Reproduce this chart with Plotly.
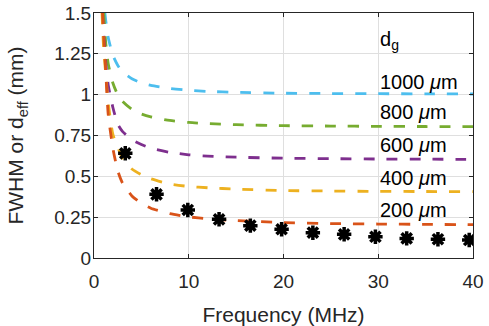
import plotly.graph_objects as go

# Curves d_eff vs frequency for gap sizes d_g
f_1000 = [1.15, 1.25, 1.5, 2, 2.5, 3, 4, 5, 6, 8, 10, 12, 15, 20, 25, 30, 35, 40]
v_1000 = [1.50, 1.45, 1.35, 1.24, 1.18, 1.14, 1.097, 1.072, 1.057, 1.038, 1.027, 1.020, 1.014, 1.009, 1.007, 1.006, 1.005, 1.004]

f_800 = [1.03, 1.25, 1.5, 2, 2.5, 3, 4, 5, 6, 8, 10, 12, 15, 20, 25, 30, 35, 40]
v_800 = [1.50, 1.31, 1.19, 1.07, 1.00, 0.96, 0.91, 0.882, 0.864, 0.842, 0.830, 0.823, 0.816, 0.810, 0.808, 0.806, 0.805, 0.804]

f_600 = [0.9, 1, 1.25, 1.5, 2, 2.5, 3, 4, 5, 6, 8, 10, 12, 15, 20, 25, 30, 35, 40]
v_600 = [1.50, 1.39, 1.19, 1.06, 0.92, 0.82, 0.775, 0.725, 0.695, 0.672, 0.647, 0.632, 0.624, 0.617, 0.611, 0.608, 0.606, 0.605, 0.604]

f_400 = [0.85, 1, 1.25, 1.5, 2, 2.5, 3, 4, 5, 6, 8, 10, 12, 15, 20, 25, 30, 35, 40]
v_400 = [1.50, 1.30, 1.12, 0.95, 0.755, 0.68, 0.61, 0.545, 0.51, 0.485, 0.453, 0.438, 0.430, 0.422, 0.413, 0.410, 0.408, 0.407, 0.406]

f_200 = [0.9, 1, 1.25, 1.5, 2, 2.5, 3, 4, 5, 6, 8, 10, 12, 15, 20, 25, 30, 35, 40]
v_200 = [1.50, 1.38, 1.13, 0.88, 0.67, 0.535, 0.46, 0.38, 0.335, 0.305, 0.272, 0.252, 0.240, 0.229, 0.217, 0.211, 0.208, 0.206, 0.204]

# Measured FWHM points
f_meas = [3.3, 6.6, 9.9, 13.2, 16.5, 19.8, 23.1, 26.4, 29.7, 33.0, 36.3, 39.6]
v_meas = [0.641, 0.390, 0.294, 0.237, 0.198, 0.176, 0.155, 0.145, 0.130, 0.120, 0.115, 0.110]

labels = ["1000", "800", "600", "400", "200"]
label_y = [1.079, 0.896, 0.692, 0.488, 0.294]

series = [
    (f_1000, v_1000, "#4DBEEE"),
    (f_800, v_800, "#77AC30"),
    (f_600, v_600, "#7E2F8E"),
    (f_400, v_400, "#EDB120"),
    (f_200, v_200, "#D95319"),
]

fig = go.Figure()
for fx, vy, col in series:
    fig.add_trace(go.Scatter(x=fx, y=vy, mode="lines",
                             line=dict(color=col, width=2.8, dash="11px,12px", shape="spline", smoothing=0.6),
                             showlegend=False, hoverinfo="skip"))

fig.add_trace(go.Scatter(x=f_meas, y=v_meas, mode="markers",
                         marker=dict(symbol="asterisk-open", size=12, color="black",
                                     line=dict(color="black", width=3.5)),
                         showlegend=False))
fig.add_trace(go.Scatter(x=f_meas, y=v_meas, mode="markers",
                         marker=dict(symbol="circle", size=8, color="black"),
                         showlegend=False))

font_main = "Liberation Sans, Arial, sans-serif"
txtcol = "#262626"

fig.add_annotation(x=30, y=1.33, xref="x", yref="y", text="d<sub>g</sub>", showarrow=False,
                   xanchor="left", yanchor="middle", font=dict(family=font_main, size=20, color="black"))
for lab, ly in zip(labels, label_y):
    fig.add_annotation(x=30, y=ly, xref="x", yref="y", text=lab + " <i>μ</i>m", showarrow=False,
                       xanchor="left", yanchor="middle", font=dict(family=font_main, size=20, color="black"))

axis_common = dict(showline=True, linecolor=txtcol, linewidth=1, mirror="ticks", ticks="inside",
                   ticklen=4, tickcolor=txtcol, showgrid=True, gridcolor="#DFDFDF", gridwidth=1,
                   zeroline=False, automargin=False, tickfont=dict(family=font_main, size=19, color=txtcol))

fig.update_xaxes(range=[0, 40], tickvals=[0, 10, 20, 30, 40], ticktext=["0", "10", "20", "30", "40"],
                 title=dict(text="Frequency (MHz)", font=dict(family=font_main, size=21, color=txtcol), standoff=18),
                 ticklabelstandoff=6, **axis_common)
fig.update_yaxes(range=[0, 1.5], tickvals=[0, 0.25, 0.5, 0.75, 1, 1.25, 1.5],
                 ticktext=["0", "0.25", "0.5", "0.75", "1", "1.25", "1.5"],
                 title=dict(text="FWHM or d<sub>eff</sub> (mm)", font=dict(family=font_main, size=21, color=txtcol), standoff=24),
                 ticklabelstandoff=-2, **axis_common)

fig.update_layout(width=489, height=326, margin=dict(l=94, r=16, t=13, b=68),
                  plot_bgcolor="white", paper_bgcolor="white")

fig.write_html("out.html")
